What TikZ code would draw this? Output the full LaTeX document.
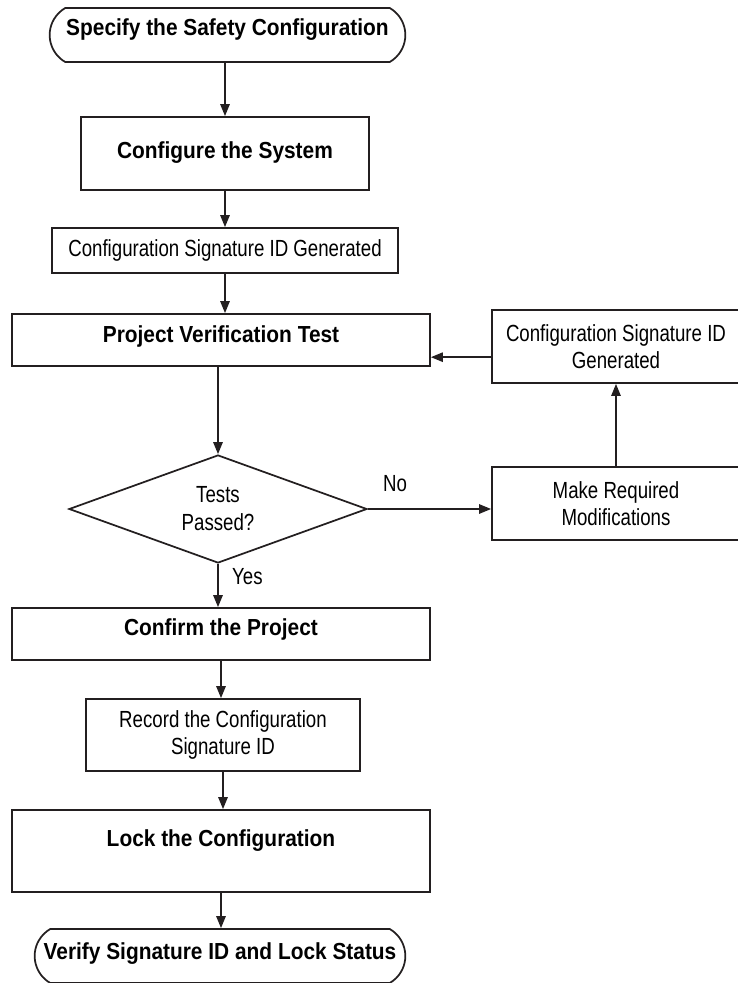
\documentclass[tikz,border=0pt]{standalone}
\usepackage{fontspec}
\setmainfont[FakeStretch=0.8, BoldFeatures={FakeStretch=0.9}]{Liberation Sans}
\usepackage{tikz}
\usetikzlibrary{arrows.meta,shapes.geometric,shapes.misc}
\definecolor{FlowLine}{HTML}{231F20}

\begin{document}
\begin{tikzpicture}[
    x=0.75pt, y=-0.75pt,
    every node/.style={inner sep=2pt, align=center,
      font=\fontsize{17.5}{20.25}\selectfont},
    stepbox/.style={draw=FlowLine, line width=1.3pt, rectangle},
    boldbox/.style={stepbox, font=\fontsize{17.4}{21}\selectfont\bfseries},
    terminal/.style={draw=FlowLine, line width=1.3pt, rounded rectangle,
      rounded rectangle arc length=120,
      font=\fontsize{17.4}{21}\selectfont\bfseries},
    decision/.style={draw=FlowLine, line width=1.3pt, diamond, aspect=2.7,
      inner sep=0pt, font=\fontsize{17.5}{21}\selectfont},
    flow/.style={draw=FlowLine, line width=1.3pt,
      -{Triangle[length=9pt,width=7pt]}}
  ]
    \useasboundingbox (0,0) rectangle (738,983);
    \clip (0,0) rectangle (738,983);

    % main column
    \node[terminal, minimum width=270.75pt, minimum height=40.5pt, text depth=12pt]
      (specify) at (227.5,35) {Specify the Safety Configuration};
    \node[boldbox, minimum width=216pt, minimum height=54.75pt, text depth=5.25pt]
      (system) at (225,153.5) {Configure the System};
    \node[stepbox, minimum width=259.5pt, minimum height=33.75pt]
      (sigid) at (225,250.5) {Configuration Signature ID Generated};
    \node[boldbox, minimum width=313.5pt, minimum height=39pt, text depth=9pt]
      (verify) at (221,340) {Project Verification Test};
    \node[decision, minimum width=223.5pt, minimum height=81pt]
      (passed) at (218,509) {Tests\\Passed?};
    \node[boldbox, minimum width=313.5pt, minimum height=39pt, text depth=10.5pt]
      (confirm) at (221,634) {Confirm the Project};
    \node[stepbox, minimum width=205.5pt, minimum height=54pt]
      (record) at (223,735) {Record the Configuration\\Signature ID};
    \node[boldbox, minimum width=313.5pt, minimum height=61.5pt, text depth=19.5pt]
      (lock) at (221,851) {Lock the Configuration};
    \node[terminal, minimum width=282pt, minimum height=40.5pt, text depth=6.75pt]
      (status) at (220,956) {Verify Signature ID and Lock Status};

    % loop back on the right
    \node[stepbox, minimum width=186pt, minimum height=54.75pt]
      (modify) at (616,503.5) {Make Required\\Modifications};
    \node[stepbox, minimum width=186pt, minimum height=54.75pt]
      (newsig) at (616,346.5) {Configuration Signature ID\\Generated};

    \draw[flow] (specify.south -| system.north) -- (system.north);
    \draw[flow] (system.south) -- (sigid.north);
    \draw[flow] (sigid.south) -- (sigid.south |- verify.north);
    \draw[flow] (verify.south -| passed.north) -- (passed.north);
    \draw[flow] (passed.south) -- (passed.south |- confirm.north)
      node[pos=0.3, right=8pt] {Yes};
    \draw[flow] (confirm.south) -- (confirm.south |- record.north);
    \draw[flow] (record.south) -- (record.south |- lock.north);
    \draw[flow] (lock.south) -- (lock.south |- status.north);

    \draw[flow] (passed.east) -- (passed.east -| modify.west)
      node[pos=0.22, above=10pt] {No};
    \draw[flow] (modify.north) -- (newsig.south);
    \draw[flow] ([yshift=-8pt]newsig.west) coordinate (back)
      -- (back -| verify.east);
\end{tikzpicture}
\end{document}
